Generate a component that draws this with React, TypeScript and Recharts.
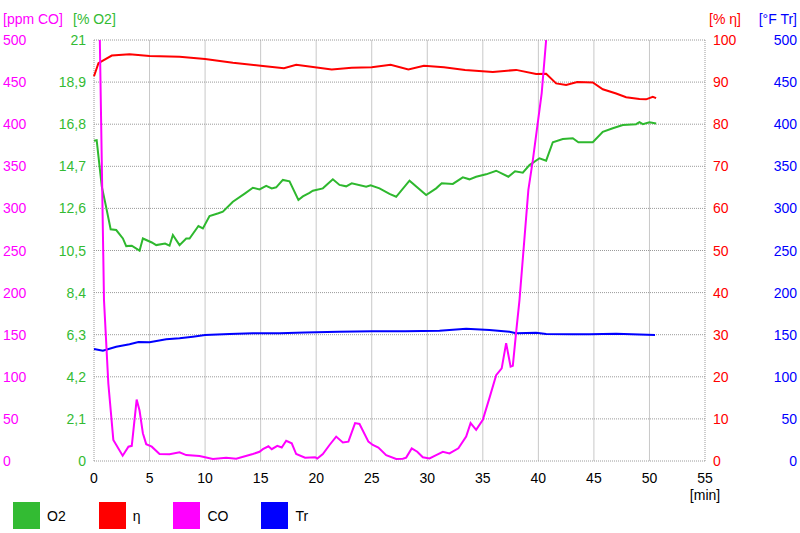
import React from 'react';
import { ComposedChart, Line, XAxis, YAxis, ReferenceLine, Legend } from 'recharts';

// O2 [%] over time [min]
const o2Min = [0, 0.24, 0.7, 1.08, 1.5, 2.0, 2.6, 2.9, 3.4, 4.1, 4.4, 5.2, 5.6, 6.4, 6.8, 7.1, 7.7, 8.3, 8.6, 9.4, 9.8, 10.4, 11.2, 11.6, 12.5, 13.6, 14.3, 14.9, 15.5, 16.0, 16.4, 17.0, 17.6, 18.4, 18.8, 19.4, 19.7, 20.6, 21.5, 22.1, 22.7, 23.2, 24.5, 24.9, 25.7, 26.6, 27.2, 28.4, 29.9, 30.8, 31.3, 32.3, 33.2, 33.8, 34.4, 35.3, 36.2, 37.3, 37.9, 38.6, 39.2, 40.1, 40.7, 41.3, 42.2, 43.1, 43.6, 44.9, 45.8, 46.7, 47.6, 48.8, 49.1, 49.4, 50.0, 50.6];
const o2Pct = [15.98, 16.0, 13.7, 12.7, 11.56, 11.52, 11.1, 10.72, 10.74, 10.49, 11.1, 10.9, 10.77, 10.85, 10.74, 11.27, 10.77, 11.1, 11.1, 11.72, 11.6, 12.22, 12.36, 12.44, 12.93, 13.35, 13.63, 13.55, 13.73, 13.6, 13.65, 14.02, 13.95, 13.02, 13.2, 13.38, 13.48, 13.6, 14.05, 13.77, 13.7, 13.85, 13.68, 13.75, 13.6, 13.32, 13.18, 13.98, 13.27, 13.6, 13.85, 13.82, 14.15, 14.05, 14.18, 14.3, 14.48, 14.18, 14.45, 14.38, 14.76, 15.1, 14.98, 15.9, 16.06, 16.1, 15.9, 15.9, 16.42, 16.6, 16.76, 16.8, 16.9, 16.8, 16.9, 16.84];

// efficiency [%]
const etaMin = [0, 0.4, 1.6, 3.2, 5.0, 7.7, 10.0, 12.5, 15.0, 17.1, 18.2, 21.4, 23.2, 25.0, 26.7, 28.3, 29.7, 31.5, 33.4, 35.9, 38.0, 39.8, 40.7, 41.6, 42.5, 43.5, 44.9, 45.8, 47.0, 47.9, 49.1, 49.7, 50.3, 50.6];
const etaPct = [91.4, 94.5, 96.3, 96.6, 96.2, 96.0, 95.5, 94.6, 93.9, 93.3, 94.1, 93.0, 93.4, 93.5, 94.1, 93.0, 93.9, 93.5, 92.9, 92.4, 92.9, 91.9, 92.0, 89.7, 89.3, 90.0, 89.9, 88.3, 87.3, 86.4, 86.0, 85.9, 86.5, 86.2];

// room temperature [°F]
const trMin = [0, 0.8, 2.0, 3.2, 4.0, 5.0, 6.5, 7.7, 8.9, 10.0, 12.2, 14.3, 16.7, 19.0, 22.0, 25.0, 28.0, 31.1, 33.5, 35.6, 37.4, 38.0, 39.8, 40.7, 43.1, 44.6, 47.0, 50.5];
const trF = [133, 131, 135.7, 138.6, 141.3, 141, 144.5, 145.7, 147.6, 149.6, 150.8, 151.6, 151.6, 152.5, 153.5, 154, 154, 154.8, 157, 155.6, 153.6, 151.7, 152.3, 150.8, 150.5, 150.4, 151, 149.6];

// CO [ppm] (goes off the top of the scale at both ends)
const coMin = [0.5, 0.9, 1.29, 1.74, 2.58, 3.1, 3.4, 3.84, 4.1, 4.4, 4.7, 5.2, 5.9, 6.8, 7.7, 8.3, 9.5, 10.7, 11.9, 12.8, 14.3, 14.9, 15.2, 15.7, 16.0, 16.5, 16.9, 17.3, 17.8, 18.2, 19.0, 19.9, 20.1, 20.6, 21.2, 21.8, 22.4, 22.9, 23.5, 23.9, 24.7, 25.1, 25.6, 26.3, 27.2, 27.8, 28.1, 28.6, 29.1, 29.6, 30.2, 30.8, 31.4, 32.0, 32.8, 33.5, 33.9, 34.4, 35.0, 35.6, 36.2, 36.7, 37.1, 37.5, 37.7, 38.0, 38.3, 39.1, 39.5, 40.3, 40.7, 40.9];
const coPpm = [520, 191, 92, 25, 6.3, 17, 18, 73, 60, 33, 20, 17, 8.3, 8, 10.3, 7, 6, 2.4, 4, 2.8, 8.3, 11, 14, 17.5, 14, 18, 16, 24, 21, 8.3, 4, 4.5, 3, 8.3, 19, 29, 22, 23, 45, 44, 23, 19, 16, 7, 2.4, 2.8, 4, 15, 11, 4.4, 3, 7, 11, 9, 15, 29, 45, 37, 49, 75, 102, 110, 140, 112, 113, 153, 191, 322, 357, 437, 500, 540];

const minTicks = [0, 5, 10, 15, 20, 25, 30, 35, 40, 45, 50, 55];
const coTicks = [0, 50, 100, 150, 200, 250, 300, 350, 400, 450, 500];
const o2Ticks = [0, 2.1, 4.2, 6.3, 8.4, 10.5, 12.6, 14.7, 16.8, 18.9, 21];
const etaTicks = [0, 10, 20, 30, 40, 50, 60, 70, 80, 90, 100];
const trTicks = [0, 50, 100, 150, 200, 250, 300, 350, 400, 450, 500];

const legendItems = [
  { name: 'O2', color: '#33bb33' },
  { name: 'η', color: '#ff0000' },
  { name: 'CO', color: '#ff00ff' },
  { name: 'Tr', color: '#0000ff' },
];

const toSeries = (ts: number[], vs: number[]) => ts.map((t, i) => ({ t, v: vs[i] }));
const o2Data = toSeries(o2Min, o2Pct);
const etaData = toSeries(etaMin, etaPct);
const trData = toSeries(trMin, trF);
const coData = toSeries(coMin, coPpm);

const FONT = 14;

const sideTick = (tx: number, anchor: 'start' | 'end', color: string, fmt?: (v: number) => string) =>
  (props: any) => (
    <text x={tx} y={props.y} dy={5} textAnchor={anchor} fill={color} fontSize={FONT}>
      {fmt ? fmt(props.payload.value) : String(props.payload.value)}
    </text>
  );

const MinTick = (props: any) => (
  <text x={props.x} y={483} textAnchor="middle" fill="#000" fontSize={FONT}>
    {props.payload.value}
  </text>
);

const Title = ({ tx, ty, anchor, color, text }: any) => (
  <text x={tx} y={ty} textAnchor={anchor} fill={color} fontSize={FONT}>{text}</text>
);

const LegendBox = () => (
  <div style={{ display: 'flex', alignItems: 'center', paddingLeft: 13, fontSize: FONT, color: '#000' }}>
    {legendItems.map((it) => (
      <div key={it.name} style={{ display: 'flex', alignItems: 'center', marginRight: 33 }}>
        <span style={{ width: 27, height: 27, background: it.color, display: 'inline-block', marginRight: 7 }} />
        <span>{it.name}</span>
      </div>
    ))}
  </div>
);

const commaFmt = (v: number) => String(v).replace('.', ',');

export default function App() {
  return (
    <div style={{ position: 'absolute', left: 0, top: 0, width: 800, height: 533, background: '#fff', fontFamily: '"Liberation Sans", Arial, sans-serif' }}>
      <ComposedChart width={800} height={533} margin={{ top: 40, right: 0, bottom: 32, left: 0 }}>
        <XAxis
          dataKey="t" type="number" domain={[0, 55]} ticks={minTicks} height={40}
          axisLine={false} tickLine={false} tick={MinTick}
          label={<Title tx={705} ty={500} anchor="middle" color="#000" text="[min]" />}
        />
        <YAxis
          yAxisId="co" orientation="left" width={47} domain={[0, 500]} ticks={coTicks} allowDataOverflow
          axisLine={false} tickLine={false} tick={sideTick(3, 'start', '#ff00ff')}
          label={<Title tx={3} ty={24} anchor="start" color="#ff00ff" text="[ppm CO]" />}
        />
        <YAxis
          yAxisId="o2" orientation="left" width={47} domain={[0, 21]} ticks={o2Ticks}
          axisLine={false} tickLine={false} tick={sideTick(86, 'end', '#33bb33', commaFmt)}
          label={<Title tx={73} ty={24} anchor="start" color="#33bb33" text="[% O2]" />}
        />
        <YAxis
          yAxisId="eta" orientation="right" width={47} domain={[0, 100]} ticks={etaTicks}
          axisLine={false} tickLine={false} tick={sideTick(713, 'start', '#ff0000')}
          label={<Title tx={709} ty={24} anchor="start" color="#ff0000" text="[% η]" />}
        />
        <YAxis
          yAxisId="tr" orientation="right" width={48} domain={[0, 500]} ticks={trTicks}
          axisLine={false} tickLine={false} tick={sideTick(797, 'end', '#0000ff')}
          label={<Title tx={797} ty={24} anchor="end" color="#0000ff" text="[°F Tr]" />}
        />
        {/* grid: dotted horizontals, light solid verticals */}
        {minTicks.map((m) => (
          <ReferenceLine key={'gx' + m} yAxisId="co" x={m} stroke={m === 0 || m === 55 ? '#9a9a9a' : '#c8c8c8'} strokeDasharray={m === 0 || m === 55 ? '1 1' : undefined} />
        ))}
        {coTicks.map((c) => (
          <ReferenceLine key={'gy' + c} yAxisId="co" y={c} stroke="#9a9a9a" strokeDasharray="1 1" />
        ))}
        <Legend
          verticalAlign="middle" layout="horizontal"
          wrapperStyle={{ left: 0, top: 502, width: 800, height: 27 }}
          content={() => <LegendBox />}
        />
        <Line yAxisId="o2" data={o2Data} dataKey="v" name="O2" stroke="#2eb82e" strokeWidth={2} dot={false} type="linear" isAnimationActive={false} />
        <Line yAxisId="eta" data={etaData} dataKey="v" name="η" stroke="#ff0000" strokeWidth={2} dot={false} type="linear" isAnimationActive={false} />
        <Line yAxisId="tr" data={trData} dataKey="v" name="Tr" stroke="#0000ff" strokeWidth={2} dot={false} type="linear" isAnimationActive={false} />
        <Line yAxisId="co" data={coData} dataKey="v" name="CO" stroke="#ff00ff" strokeWidth={2} dot={false} type="linear" isAnimationActive={false} />
      </ComposedChart>
    </div>
  );
}
